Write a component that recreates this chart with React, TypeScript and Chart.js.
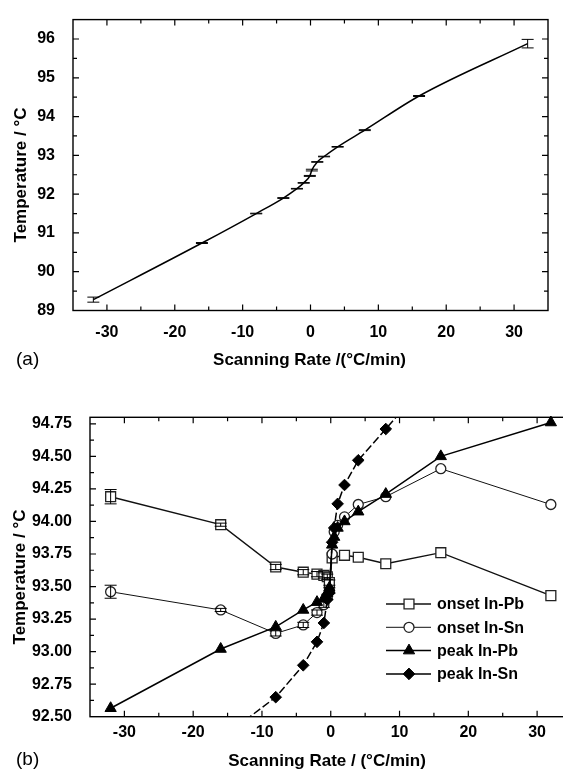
import React, { useEffect, useRef } from "react";
import { Chart, registerables } from "chart.js";
import * as helpers from "chart.js/helpers";

Chart.register(...registerables);

// ---------- Panel (a) data ----------
const rateA = [-32, -16, -8, -4, -2, -1, -0.1, 0.2, 1, 2, 4, 8, 16, 32];
const tempA = [89.28, 90.74, 91.5, 91.9, 92.14, 92.29, 92.47, 92.62, 92.83, 92.97, 93.22, 93.65, 94.53, 95.88];
const errA = [0.065, 0.012, 0.008, 0.01, 0.008, 0.008, 0.012, 0.022, 0.008, 0.008, 0.008, 0.012, 0.012, 0.11];

// ---------- Panel (b) data ----------
const rateB = [-32, -16, -8, -4, -2, -1, -0.5, -0.2, 0.2, 0.5, 1, 2, 4, 8, 16, 32];
const onsetInPb = [94.19, 93.975, 93.65, 93.61, 93.595, 93.585, 93.575, 93.53, 93.72, null, null, 93.74, 93.725, 93.675, 93.76, 93.43];
const onsetInSn = [93.46, 93.32, 93.14, 93.205, 93.3, 93.36, 93.42, 93.47, 93.75, 93.92, 93.97, 94.035, 94.13, 94.19, 94.405, 94.13];
const peakInPb = [92.565, 93.02, 93.19, 93.32, 93.38, 93.41, 93.45, 93.49, 93.82, 93.88, 93.95, 94.0, 94.075, 94.21, 94.5, 94.76];
const peakInSn = [91.6, 92.33, 92.65, 92.895, 93.075, 93.22, 93.4, 93.45, 93.84, 93.95, 94.135, 94.28, 94.47, 94.71, 95.2, 95.9];
const errOnsetInPb = [0.055, 0.012, 0.02, 0.02, 0.02, 0.02, 0.02, 0.02, 0, 0, 0, 0, 0, 0, 0, 0];
const errOnsetInSn = [0.05, 0.012, 0.02, 0.02, 0.02, 0.02, 0.02, 0.02, 0, 0, 0, 0, 0, 0, 0, 0];
const legendLabels = ["onset In-Pb", "onset In-Sn", "peak In-Pb", "peak In-Sn"];

const xRange = [-35, 35];
const yRangeA = [89, 96.5];
const yRangeB = [92.5, 94.8];

const FONT = "'Liberation Sans', Arial, Helvetica, sans-serif";
const tickFont = { family: FONT, size: 16, weight: "bold" as const };

const pts = (xs: number[], ys: (number | null)[]) => xs.map((x, i) => ({ x, y: ys[i] }));

function framePlugin(cfg: { xMinor: number; xMajor: number; yMinor: number; yMajor: number }) {
  return {
    id: "frameTicks",
    beforeDatasetsDraw(chart: any) {
      const { ctx, chartArea: a, scales } = chart;
      const x = scales.x, y = scales.y;
      ctx.save();
      ctx.strokeStyle = "#000";
      ctx.lineWidth = 1.4;
      ctx.strokeRect(a.left, a.top, a.right - a.left, a.bottom - a.top);
      ctx.lineWidth = 1.2;
      const isMajor = (v: number, m: number) => Math.abs(v / m - Math.round(v / m)) < 1e-6;
      const nx = Math.round((x.max - x.min) / cfg.xMinor);
      ctx.beginPath();
      for (let k = 1; k < nx; k++) {
        const v = x.min + k * cfg.xMinor;
        const len = isMajor(v, cfg.xMajor) ? 6 : 4;
        const px = x.getPixelForValue(v);
        ctx.moveTo(px, a.bottom); ctx.lineTo(px, a.bottom - len);
        ctx.moveTo(px, a.top); ctx.lineTo(px, a.top + len);
      }
      const ny = Math.round((y.max - y.min) / cfg.yMinor);
      for (let k = 1; k <= ny; k++) {
        const v = y.min + k * cfg.yMinor;
        if (v >= y.max - 1e-9) continue;
        const len = isMajor(v, cfg.yMajor) ? 6 : 4;
        const py = y.getPixelForValue(v);
        ctx.moveTo(a.left, py); ctx.lineTo(a.left + len, py);
        ctx.moveTo(a.right, py); ctx.lineTo(a.right - len, py);
      }
      ctx.stroke();
      ctx.restore();
    },
  };
}

const errorBarPlugin = {
  id: "errorBars",
  afterDatasetsDraw(chart: any) {
    const { ctx, chartArea: a, scales } = chart;
    const x = scales.x, y = scales.y;
    ctx.save();
    ctx.beginPath();
    ctx.rect(a.left, a.top, a.right - a.left, a.bottom - a.top);
    ctx.clip();
    chart.data.datasets.forEach((ds: any) => {
      const errs = ds.errors;
      if (!errs) return;
      ctx.strokeStyle = ds.errorColor || "#000";
      ctx.lineWidth = 1;
      const hw = ds.capHalf || 6;
      ds.data.forEach((p: any, i: number) => {
        const e = errs[i];
        if (!e || p.y == null) return;
        const px = x.getPixelForValue(p.x);
        const y1 = y.getPixelForValue(p.y + e);
        const y2 = y.getPixelForValue(p.y - e);
        ctx.beginPath();
        ctx.moveTo(px, y1); ctx.lineTo(px, y2);
        ctx.moveTo(px - hw, y1); ctx.lineTo(px + hw, y1);
        ctx.moveTo(px - hw, y2); ctx.lineTo(px + hw, y2);
        ctx.stroke();
      });
    });
    ctx.restore();
  },
};

function textPlugin(cfg: {
  xTitle: string; xTitleX: number; xTitleY: number;
  yTitle: string; yTitleX: number; yTitleY: number;
  tag: string; tagX: number; tagY: number;
}) {
  return {
    id: "texts",
    afterDraw(chart: any) {
      const ctx = chart.ctx;
      ctx.save();
      ctx.fillStyle = "#000";
      ctx.textBaseline = "alphabetic";
      ctx.font = `bold 17px ${FONT}`;
      ctx.textAlign = "center";
      ctx.fillText(cfg.xTitle, cfg.xTitleX, cfg.xTitleY);
      ctx.save();
      ctx.translate(cfg.yTitleX, cfg.yTitleY);
      ctx.rotate(-Math.PI / 2);
      ctx.fillText(cfg.yTitle, 0, 0);
      ctx.restore();
      ctx.font = `19px ${FONT}`;
      ctx.textAlign = "left";
      ctx.fillText(cfg.tag, cfg.tagX, cfg.tagY);
      ctx.restore();
    },
  };
}

const legendPlugin = {
  id: "insideLegend",
  afterDraw(chart: any) {
    const ctx = chart.ctx;
    ctx.save();
    chart.data.datasets.forEach((ds: any, i: number) => {
      const yy = 224 + i * 23.3;
      ctx.strokeStyle = ds.borderColor;
      ctx.lineWidth = ds.borderWidth;
      ctx.setLineDash([]);
      ctx.beginPath();
      ctx.moveTo(386, yy); ctx.lineTo(431, yy);
      ctx.stroke();
      ctx.fillStyle = ds.pointBackgroundColor;
      ctx.strokeStyle = ds.pointBorderColor;
      ctx.lineWidth = ds.pointBorderWidth;
      (helpers as any).drawPoint(ctx, { pointStyle: ds.pointStyle, radius: ds.pointRadius, rotation: 0, borderWidth: ds.pointBorderWidth }, 409, yy);
      ctx.fillStyle = "#000";
      ctx.font = `bold 16px ${FONT}`;
      ctx.textAlign = "left";
      ctx.textBaseline = "middle";
      ctx.fillText(legendLabels[i], 437, yy + 1);
    });
    ctx.restore();
  },
};

function xTickCb(v: any) {
  const n = Number(v);
  return Math.abs(n % 10) < 1e-9 && Math.abs(n) < 34 ? String(n) : "";
}

function PanelA() {
  const ref = useRef<HTMLCanvasElement>(null);
  useEffect(() => {
    const chart = new Chart(ref.current as HTMLCanvasElement, {
      type: "line",
      data: {
        datasets: [
          {
            label: "Temperature",
            data: pts(rateA, tempA),
            errors: errA,
            borderColor: "#000",
            borderWidth: 1.5,
            pointRadius: 0,
            cubicInterpolationMode: "monotone",
            fill: false,
          } as any,
        ],
      },
      options: {
        responsive: false,
        animation: false,
        devicePixelRatio: 1,
        layout: { padding: { left: 0, right: 15, top: 13, bottom: 0 } },
        plugins: { legend: { display: false }, tooltip: { enabled: false } },
        scales: {
          x: {
            type: "linear", min: xRange[0], max: xRange[1],
            grid: { display: false }, border: { display: false },
            ticks: { stepSize: 5, autoSkip: false, maxRotation: 0, padding: 4, color: "#000", font: tickFont, callback: xTickCb },
            afterFit: (s: any) => { s.height = 69.5; },
          },
          y: {
            type: "linear", min: yRangeA[0], max: yRangeA[1],
            grid: { display: false }, border: { display: false },
            ticks: {
              stepSize: 1, padding: 10, color: "#000", font: tickFont,
              callback: (v: any) => (Number.isInteger(Number(v)) && Number(v) <= 96 ? String(v) : ""),
            },
            afterFit: (s: any) => { s.width = 73; },
          },
        },
      } as any,
      plugins: [
        framePlugin({ xMinor: 5, xMajor: 10, yMinor: 0.5, yMajor: 1 }),
        errorBarPlugin,
        textPlugin({
          xTitle: "Scanning Rate /(°C/min)", xTitleX: 309.5, xTitleY: 364.5,
          yTitle: "Temperature / °C", yTitleX: 26, yTitleY: 175,
          tag: "(a)", tagX: 16, tagY: 364.5,
        }),
      ],
    });
    return () => chart.destroy();
  }, []);
  return (
    <canvas ref={ref} width={563} height={380}
      style={{ position: "absolute", left: 0, top: 0, width: 563, height: 380 }} />
  );
}

function PanelB() {
  const ref = useRef<HTMLCanvasElement>(null);
  useEffect(() => {
    const chart = new Chart(ref.current as HTMLCanvasElement, {
      type: "line",
      data: {
        datasets: [
          {
            label: legendLabels[0], data: pts(rateB, onsetInPb), errors: errOnsetInPb,
            borderColor: "#111", borderWidth: 1.4, spanGaps: true, clip: false, order: 3,
            pointStyle: "rect", pointRadius: 7, pointBorderWidth: 1.3,
            pointBackgroundColor: "#fff", pointBorderColor: "#222",
          },
          {
            label: legendLabels[1], data: pts(rateB, onsetInSn), errors: errOnsetInSn,
            borderColor: "#111", borderWidth: 1, spanGaps: true, clip: false, order: 2,
            pointStyle: "circle", pointRadius: 5, pointBorderWidth: 1.3,
            pointBackgroundColor: "#fff", pointBorderColor: "#222",
          },
          {
            label: legendLabels[2], data: pts(rateB, peakInPb),
            borderColor: "#000", borderWidth: 1.5, spanGaps: true, clip: false, order: 1,
            pointStyle: "triangle", pointRadius: 6.5, pointBorderWidth: 1,
            pointBackgroundColor: "#000", pointBorderColor: "#000",
          },
          {
            label: legendLabels[3], data: pts(rateB, peakInSn),
            borderColor: "#000", borderWidth: 1.5, borderDash: [8, 3], spanGaps: true, order: 0,
            pointStyle: "rectRot", pointRadius: 5.8, pointBorderWidth: 1,
            pointBackgroundColor: "#000", pointBorderColor: "#000",
          },
        ] as any,
      },
      options: {
        responsive: false,
        animation: false,
        devicePixelRatio: 1,
        layout: { padding: { left: 0, right: 8.5, top: 37.3, bottom: 0 } },
        plugins: { legend: { display: false }, tooltip: { enabled: false } },
        scales: {
          x: {
            type: "linear", min: xRange[0], max: xRange[1],
            grid: { display: false }, border: { display: false },
            ticks: { stepSize: 5, autoSkip: false, maxRotation: 0, padding: -2, color: "#000", font: tickFont, callback: xTickCb },
            afterFit: (s: any) => { s.height = 52.3; },
          },
          y: {
            type: "linear", min: yRangeB[0], max: yRangeB[1],
            grid: { display: false }, border: { display: false },
            ticks: {
              stepSize: 0.25, includeBounds: false, padding: 10, color: "#000", font: tickFont,
              callback: (v: any) => {
                const n = Number(v);
                const k = Math.round(n / 0.25);
                return Math.abs(n - k * 0.25) < 1e-6 && n <= 94.76 ? n.toFixed(2) : "";
              },
            },
            afterFit: (s: any) => { s.width = 90; },
          },
        },
      } as any,
      plugins: [
        framePlugin({ xMinor: 5, xMajor: 10, yMinor: 0.125, yMajor: 0.25 }),
        errorBarPlugin,
        legendPlugin,
        textPlugin({
          xTitle: "Scanning Rate / (°C/min)", xTitleX: 327, xTitleY: 385.5,
          yTitle: "Temperature / °C", yTitleX: 25, yTitleY: 197,
          tag: "(b)", tagX: 16, tagY: 384.5,
        }),
      ],
    });
    return () => chart.destroy();
  }, []);
  return (
    <canvas ref={ref} width={580} height={389}
      style={{ position: "absolute", left: 0, top: 380, width: 580, height: 389 }} />
  );
}

export default function App() {
  return (
    <div style={{ position: "absolute", left: 0, top: 0, width: 563, height: 769, overflow: "hidden", background: "#fff" }}>
      <PanelA />
      <PanelB />
    </div>
  );
}
